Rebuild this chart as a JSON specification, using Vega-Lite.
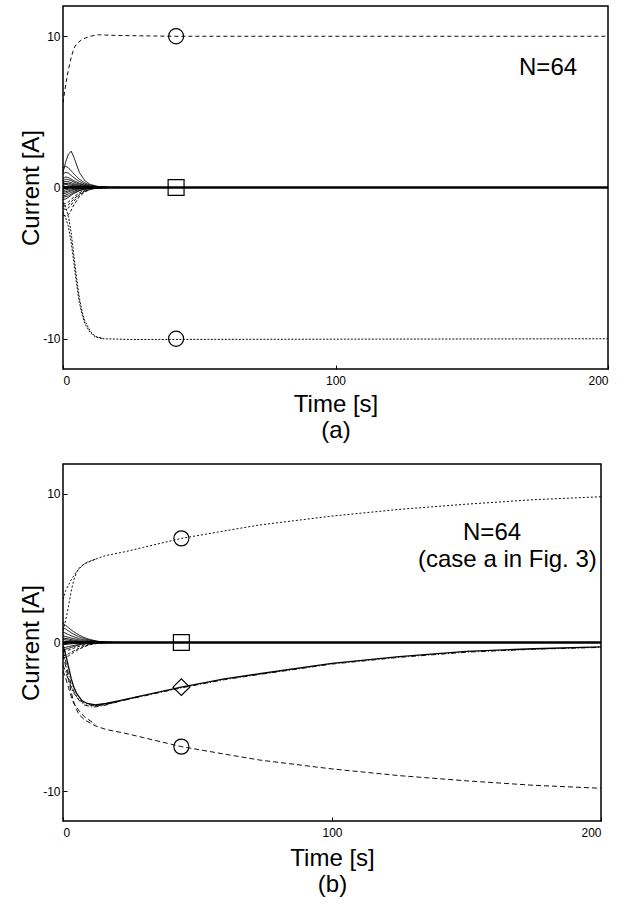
{
"$schema":"https://vega.github.io/schema/vega-lite/v6.json",
"background":"white",
"padding":{"left":18,"top":5,"right":0,"bottom":0},
"bounds":"flush",
"spacing":95,
"config":{
 "font":"Liberation Sans",
 "view":{"stroke":"black","strokeWidth":1.5},
 "axis":{"grid":false,"domain":false,"tickColor":"black","tickSize":-4,"tickWidth":1,"labelFont":"Liberation Sans","labelFontSize":12,"labelColor":"black","titleFont":"Liberation Sans","titleFontSize":24,"titleFontWeight":"normal","titleColor":"black"},
 "legend":{"disable":true}
},
"datasets":{
"curvesA":[
{"series":"a-rise","group":"rising","time":0,"current":5.6},{"series":"a-rise","group":"rising","time":1,"current":6.8},{"series":"a-rise","group":"rising","time":2,"current":7.8},{"series":"a-rise","group":"rising","time":3,"current":8.6},{"series":"a-rise","group":"rising","time":4,"current":9.2},{"series":"a-rise","group":"rising","time":5,"current":9.5},{"series":"a-rise","group":"rising","time":7,"current":9.8},{"series":"a-rise","group":"rising","time":10,"current":10.0},{"series":"a-rise","group":"rising","time":13,"current":10.1},{"series":"a-rise","group":"rising","time":20,"current":10.05},{"series":"a-rise","group":"rising","time":40,"current":10},{"series":"a-rise","group":"rising","time":200,"current":10},
{"series":"a-fall1","group":"falling","time":0,"current":-1.0},{"series":"a-fall1","group":"falling","time":1,"current":-1.3},{"series":"a-fall1","group":"falling","time":2,"current":-1.9},{"series":"a-fall1","group":"falling","time":3,"current":-3.0},{"series":"a-fall1","group":"falling","time":4,"current":-4.5},{"series":"a-fall1","group":"falling","time":5,"current":-6.0},{"series":"a-fall1","group":"falling","time":6,"current":-7.3},{"series":"a-fall1","group":"falling","time":7,"current":-8.2},{"series":"a-fall1","group":"falling","time":8,"current":-8.8},{"series":"a-fall1","group":"falling","time":10,"current":-9.5},{"series":"a-fall1","group":"falling","time":12,"current":-9.85},{"series":"a-fall1","group":"falling","time":15,"current":-10},{"series":"a-fall1","group":"falling","time":25,"current":-10.05},{"series":"a-fall1","group":"falling","time":200,"current":-10},
{"series":"a-fall2","group":"falling","time":0,"current":-1.6},{"series":"a-fall2","group":"falling","time":1,"current":-2.0},{"series":"a-fall2","group":"falling","time":2,"current":-2.6},{"series":"a-fall2","group":"falling","time":3,"current":-3.6},{"series":"a-fall2","group":"falling","time":4,"current":-5.0},{"series":"a-fall2","group":"falling","time":5,"current":-6.4},{"series":"a-fall2","group":"falling","time":6,"current":-7.6},{"series":"a-fall2","group":"falling","time":7,"current":-8.4},{"series":"a-fall2","group":"falling","time":8,"current":-9.0},{"series":"a-fall2","group":"falling","time":10,"current":-9.6},{"series":"a-fall2","group":"falling","time":12,"current":-9.9},{"series":"a-fall2","group":"falling","time":15,"current":-10},
{"series":"a-bump","group":"transient","time":0,"current":1.0},{"series":"a-bump","group":"transient","time":1,"current":1.7},{"series":"a-bump","group":"transient","time":2,"current":2.2},{"series":"a-bump","group":"transient","time":3,"current":2.4},{"series":"a-bump","group":"transient","time":4,"current":2.0},{"series":"a-bump","group":"transient","time":6,"current":1.0},{"series":"a-bump","group":"transient","time":8,"current":0.45},{"series":"a-bump","group":"transient","time":10,"current":0.2},{"series":"a-bump","group":"transient","time":13,"current":0.06},{"series":"a-bump","group":"transient","time":17,"current":0.01},{"series":"a-bump","group":"transient","time":22,"current":0},
{"series":"a-t1","group":"transient","time":0,"current":1.3},{"series":"a-t1","group":"transient","time":1,"current":1.4},{"series":"a-t1","group":"transient","time":2,"current":1.3},{"series":"a-t1","group":"transient","time":3,"current":1.1},{"series":"a-t1","group":"transient","time":4,"current":0.9},{"series":"a-t1","group":"transient","time":6,"current":0.55},{"series":"a-t1","group":"transient","time":8,"current":0.3},{"series":"a-t1","group":"transient","time":10,"current":0.15},{"series":"a-t1","group":"transient","time":13,"current":0.05},{"series":"a-t1","group":"transient","time":17,"current":0.01},{"series":"a-t1","group":"transient","time":22,"current":0},
{"series":"a-t2","group":"transient","time":0,"current":0.9},{"series":"a-t2","group":"transient","time":1,"current":1.0},{"series":"a-t2","group":"transient","time":2,"current":0.95},{"series":"a-t2","group":"transient","time":3,"current":0.8},{"series":"a-t2","group":"transient","time":4,"current":0.65},{"series":"a-t2","group":"transient","time":6,"current":0.4},{"series":"a-t2","group":"transient","time":8,"current":0.22},{"series":"a-t2","group":"transient","time":10,"current":0.1},{"series":"a-t2","group":"transient","time":13,"current":0.03},{"series":"a-t2","group":"transient","time":17,"current":0},
{"series":"a-t3","group":"transient","time":0,"current":0.6},{"series":"a-t3","group":"transient","time":1,"current":0.7},{"series":"a-t3","group":"transient","time":2,"current":0.65},{"series":"a-t3","group":"transient","time":3,"current":0.55},{"series":"a-t3","group":"transient","time":4,"current":0.45},{"series":"a-t3","group":"transient","time":6,"current":0.28},{"series":"a-t3","group":"transient","time":8,"current":0.15},{"series":"a-t3","group":"transient","time":10,"current":0.07},{"series":"a-t3","group":"transient","time":13,"current":0.02},{"series":"a-t3","group":"transient","time":17,"current":0},
{"series":"a-t4","group":"transient","time":0,"current":0.35},{"series":"a-t4","group":"transient","time":1,"current":0.4},{"series":"a-t4","group":"transient","time":2,"current":0.38},{"series":"a-t4","group":"transient","time":3,"current":0.32},{"series":"a-t4","group":"transient","time":4,"current":0.25},{"series":"a-t4","group":"transient","time":6,"current":0.15},{"series":"a-t4","group":"transient","time":8,"current":0.08},{"series":"a-t4","group":"transient","time":10,"current":0.04},{"series":"a-t4","group":"transient","time":13,"current":0.01},{"series":"a-t4","group":"transient","time":17,"current":0},
{"series":"a-t5","group":"transient","time":0,"current":0.15},{"series":"a-t5","group":"transient","time":1,"current":0.2},{"series":"a-t5","group":"transient","time":2,"current":0.18},{"series":"a-t5","group":"transient","time":3,"current":0.15},{"series":"a-t5","group":"transient","time":4,"current":0.12},{"series":"a-t5","group":"transient","time":6,"current":0.07},{"series":"a-t5","group":"transient","time":8,"current":0.04},{"series":"a-t5","group":"transient","time":10,"current":0.02},{"series":"a-t5","group":"transient","time":13,"current":0},
{"series":"a-t6","group":"transient","time":0,"current":-0.1},{"series":"a-t6","group":"transient","time":1,"current":-0.05},{"series":"a-t6","group":"transient","time":2,"current":-0.02},{"series":"a-t6","group":"transient","time":4,"current":0.02},{"series":"a-t6","group":"transient","time":6,"current":0.02},{"series":"a-t6","group":"transient","time":10,"current":0},
{"series":"a-t7","group":"transient","time":0,"current":-0.3},{"series":"a-t7","group":"transient","time":1,"current":-0.28},{"series":"a-t7","group":"transient","time":2,"current":-0.22},{"series":"a-t7","group":"transient","time":3,"current":-0.16},{"series":"a-t7","group":"transient","time":4,"current":-0.12},{"series":"a-t7","group":"transient","time":6,"current":-0.06},{"series":"a-t7","group":"transient","time":8,"current":-0.03},{"series":"a-t7","group":"transient","time":10,"current":-0.01},{"series":"a-t7","group":"transient","time":13,"current":0},
{"series":"a-t8","group":"transient","time":0,"current":-0.55},{"series":"a-t8","group":"transient","time":1,"current":-0.5},{"series":"a-t8","group":"transient","time":2,"current":-0.42},{"series":"a-t8","group":"transient","time":3,"current":-0.33},{"series":"a-t8","group":"transient","time":4,"current":-0.25},{"series":"a-t8","group":"transient","time":6,"current":-0.13},{"series":"a-t8","group":"transient","time":8,"current":-0.06},{"series":"a-t8","group":"transient","time":10,"current":-0.03},{"series":"a-t8","group":"transient","time":13,"current":-0.01},{"series":"a-t8","group":"transient","time":17,"current":0},
{"series":"a-t9","group":"transient","time":0,"current":-0.8},{"series":"a-t9","group":"transient","time":1,"current":-0.75},{"series":"a-t9","group":"transient","time":2,"current":-0.65},{"series":"a-t9","group":"transient","time":3,"current":-0.52},{"series":"a-t9","group":"transient","time":4,"current":-0.4},{"series":"a-t9","group":"transient","time":6,"current":-0.22},{"series":"a-t9","group":"transient","time":8,"current":-0.11},{"series":"a-t9","group":"transient","time":10,"current":-0.05},{"series":"a-t9","group":"transient","time":13,"current":-0.01},{"series":"a-t9","group":"transient","time":17,"current":0},
{"series":"a-t10","group":"transientDashed","time":0,"current":-1.1},{"series":"a-t10","group":"transientDashed","time":1,"current":-1.05},{"series":"a-t10","group":"transientDashed","time":2,"current":-0.95},{"series":"a-t10","group":"transientDashed","time":3,"current":-0.8},{"series":"a-t10","group":"transientDashed","time":4,"current":-0.62},{"series":"a-t10","group":"transientDashed","time":6,"current":-0.35},{"series":"a-t10","group":"transientDashed","time":8,"current":-0.18},{"series":"a-t10","group":"transientDashed","time":10,"current":-0.08},{"series":"a-t10","group":"transientDashed","time":13,"current":-0.02},{"series":"a-t10","group":"transientDashed","time":17,"current":0},
{"series":"a-t11","group":"transientDashed","time":0,"current":-1.4},{"series":"a-t11","group":"transientDashed","time":1,"current":-1.45},{"series":"a-t11","group":"transientDashed","time":2,"current":-1.35},{"series":"a-t11","group":"transientDashed","time":3,"current":-1.15},{"series":"a-t11","group":"transientDashed","time":4,"current":-0.9},{"series":"a-t11","group":"transientDashed","time":6,"current":-0.5},{"series":"a-t11","group":"transientDashed","time":8,"current":-0.25},{"series":"a-t11","group":"transientDashed","time":10,"current":-0.1},{"series":"a-t11","group":"transientDashed","time":13,"current":-0.03},{"series":"a-t11","group":"transientDashed","time":17,"current":0},
{"series":"a-t12","group":"transientDashed","time":0,"current":-1.8},{"series":"a-t12","group":"transientDashed","time":1,"current":-1.9},{"series":"a-t12","group":"transientDashed","time":2,"current":-1.8},{"series":"a-t12","group":"transientDashed","time":3,"current":-1.5},{"series":"a-t12","group":"transientDashed","time":4,"current":-1.15},{"series":"a-t12","group":"transientDashed","time":6,"current":-0.6},{"series":"a-t12","group":"transientDashed","time":8,"current":-0.3},{"series":"a-t12","group":"transientDashed","time":10,"current":-0.12},{"series":"a-t12","group":"transientDashed","time":13,"current":-0.03},{"series":"a-t12","group":"transientDashed","time":17,"current":0},
{"series":"a-t13","group":"transient","time":0,"current":0.0},{"series":"a-t13","group":"transient","time":2,"current":0.1},{"series":"a-t13","group":"transient","time":4,"current":0.07},{"series":"a-t13","group":"transient","time":8,"current":0.02},{"series":"a-t13","group":"transient","time":12,"current":0},
{"series":"a-t14","group":"transient","time":0,"current":0.45},{"series":"a-t14","group":"transient","time":1,"current":0.55},{"series":"a-t14","group":"transient","time":2,"current":0.52},{"series":"a-t14","group":"transient","time":3,"current":0.45},{"series":"a-t14","group":"transient","time":4,"current":0.36},{"series":"a-t14","group":"transient","time":6,"current":0.22},{"series":"a-t14","group":"transient","time":8,"current":0.12},{"series":"a-t14","group":"transient","time":10,"current":0.05},{"series":"a-t14","group":"transient","time":13,"current":0.01},{"series":"a-t14","group":"transient","time":17,"current":0},
{"series":"a-t15","group":"transient","time":0,"current":-0.2},{"series":"a-t15","group":"transient","time":2,"current":-0.12},{"series":"a-t15","group":"transient","time":4,"current":-0.05},{"series":"a-t15","group":"transient","time":8,"current":-0.01},{"series":"a-t15","group":"transient","time":12,"current":0},
{"series":"a-t16","group":"transient","time":0,"current":-0.4},{"series":"a-t16","group":"transient","time":1,"current":-0.38},{"series":"a-t16","group":"transient","time":2,"current":-0.3},{"series":"a-t16","group":"transient","time":4,"current":-0.16},{"series":"a-t16","group":"transient","time":6,"current":-0.08},{"series":"a-t16","group":"transient","time":8,"current":-0.04},{"series":"a-t16","group":"transient","time":10,"current":-0.02},{"series":"a-t16","group":"transient","time":14,"current":0},
{"series":"a-t17","group":"transient","time":0,"current":0.25},{"series":"a-t17","group":"transient","time":2,"current":0.28},{"series":"a-t17","group":"transient","time":4,"current":0.18},{"series":"a-t17","group":"transient","time":7,"current":0.08},{"series":"a-t17","group":"transient","time":11,"current":0.02},{"series":"a-t17","group":"transient","time":15,"current":0},
{"series":"a-t18","group":"transient","time":0,"current":0.08},{"series":"a-t18","group":"transient","time":2,"current":0.05},{"series":"a-t18","group":"transient","time":5,"current":0.02},{"series":"a-t18","group":"transient","time":9,"current":0},
{"series":"a-t19","group":"transient","time":0,"current":-0.65},{"series":"a-t19","group":"transient","time":2,"current":-0.55},{"series":"a-t19","group":"transient","time":4,"current":-0.33},{"series":"a-t19","group":"transient","time":7,"current":-0.14},{"series":"a-t19","group":"transient","time":11,"current":-0.04},{"series":"a-t19","group":"transient","time":15,"current":0},
{"series":"a-t20","group":"transientDashed","time":0,"current":-1.25},{"series":"a-t20","group":"transientDashed","time":2,"current":-1.15},{"series":"a-t20","group":"transientDashed","time":4,"current":-0.75},{"series":"a-t20","group":"transientDashed","time":7,"current":-0.3},{"series":"a-t20","group":"transientDashed","time":11,"current":-0.08},{"series":"a-t20","group":"transientDashed","time":16,"current":0},
{"series":"a-zero","group":"converged","time":0,"current":0},{"series":"a-zero","group":"converged","time":200,"current":0}
],
"curvesB":[
{"series":"b-rise1","group":"slowRise","time":0,"current":0.8},{"series":"b-rise1","group":"slowRise","time":1,"current":1.5},{"series":"b-rise1","group":"slowRise","time":2,"current":2.4},{"series":"b-rise1","group":"slowRise","time":3,"current":3.4},{"series":"b-rise1","group":"slowRise","time":4,"current":4.2},{"series":"b-rise1","group":"slowRise","time":5,"current":4.7},{"series":"b-rise1","group":"slowRise","time":6,"current":5.0},{"series":"b-rise1","group":"slowRise","time":8,"current":5.3},{"series":"b-rise1","group":"slowRise","time":12,"current":5.6},{"series":"b-rise1","group":"slowRise","time":16,"current":5.85},{"series":"b-rise1","group":"slowRise","time":23,"current":6.1},{"series":"b-rise1","group":"slowRise","time":30,"current":6.4},{"series":"b-rise1","group":"slowRise","time":44,"current":7.0},{"series":"b-rise1","group":"slowRise","time":60,"current":7.5},{"series":"b-rise1","group":"slowRise","time":73,"current":7.9},{"series":"b-rise1","group":"slowRise","time":100,"current":8.5},{"series":"b-rise1","group":"slowRise","time":125,"current":8.95},{"series":"b-rise1","group":"slowRise","time":150,"current":9.3},{"series":"b-rise1","group":"slowRise","time":175,"current":9.6},{"series":"b-rise1","group":"slowRise","time":200,"current":9.8},
{"series":"b-rise2","group":"slowRise","time":0,"current":2.9},{"series":"b-rise2","group":"slowRise","time":1,"current":3.5},{"series":"b-rise2","group":"slowRise","time":3,"current":4.2},{"series":"b-rise2","group":"slowRise","time":4.8,"current":4.7},{"series":"b-rise2","group":"slowRise","time":7,"current":5.15},{"series":"b-rise2","group":"slowRise","time":9,"current":5.4},{"series":"b-rise2","group":"slowRise","time":12,"current":5.6},
{"series":"b-fall1","group":"slowFall","time":0,"current":-0.8},{"series":"b-fall1","group":"slowFall","time":1,"current":-1.6},{"series":"b-fall1","group":"slowFall","time":2,"current":-2.4},{"series":"b-fall1","group":"slowFall","time":3,"current":-3.3},{"series":"b-fall1","group":"slowFall","time":4,"current":-4.0},{"series":"b-fall1","group":"slowFall","time":5,"current":-4.5},{"series":"b-fall1","group":"slowFall","time":6,"current":-4.85},{"series":"b-fall1","group":"slowFall","time":8,"current":-5.2},{"series":"b-fall1","group":"slowFall","time":12,"current":-5.6},{"series":"b-fall1","group":"slowFall","time":16,"current":-5.85},{"series":"b-fall1","group":"slowFall","time":23,"current":-6.1},{"series":"b-fall1","group":"slowFall","time":30,"current":-6.4},{"series":"b-fall1","group":"slowFall","time":44,"current":-7.0},{"series":"b-fall1","group":"slowFall","time":60,"current":-7.5},{"series":"b-fall1","group":"slowFall","time":73,"current":-7.9},{"series":"b-fall1","group":"slowFall","time":100,"current":-8.5},{"series":"b-fall1","group":"slowFall","time":125,"current":-8.95},{"series":"b-fall1","group":"slowFall","time":150,"current":-9.3},{"series":"b-fall1","group":"slowFall","time":175,"current":-9.6},{"series":"b-fall1","group":"slowFall","time":200,"current":-9.8},
{"series":"b-mid1","group":"middle","time":0,"current":-0.2},{"series":"b-mid1","group":"middle","time":1,"current":-0.8},{"series":"b-mid1","group":"middle","time":2,"current":-1.6},{"series":"b-mid1","group":"middle","time":3,"current":-2.4},{"series":"b-mid1","group":"middle","time":4,"current":-3.0},{"series":"b-mid1","group":"middle","time":5,"current":-3.4},{"series":"b-mid1","group":"middle","time":7,"current":-3.9},{"series":"b-mid1","group":"middle","time":9,"current":-4.1},{"series":"b-mid1","group":"middle","time":12,"current":-4.2},{"series":"b-mid1","group":"middle","time":16,"current":-4.1},{"series":"b-mid1","group":"middle","time":21,"current":-3.9},{"series":"b-mid1","group":"middle","time":30,"current":-3.55},{"series":"b-mid1","group":"middle","time":44,"current":-3.0},{"series":"b-mid1","group":"middle","time":60,"current":-2.45},{"series":"b-mid1","group":"middle","time":73,"current":-2.1},{"series":"b-mid1","group":"middle","time":100,"current":-1.4},{"series":"b-mid1","group":"middle","time":125,"current":-0.95},{"series":"b-mid1","group":"middle","time":150,"current":-0.6},{"series":"b-mid1","group":"middle","time":175,"current":-0.42},{"series":"b-mid1","group":"middle","time":200,"current":-0.3},
{"series":"b-mid1b","group":"middleDashed","time":12,"current":-4.25},{"series":"b-mid1b","group":"middleDashed","time":21,"current":-3.95},{"series":"b-mid1b","group":"middleDashed","time":30,"current":-3.6},{"series":"b-mid1b","group":"middleDashed","time":44,"current":-3.05},{"series":"b-mid1b","group":"middleDashed","time":60,"current":-2.5},{"series":"b-mid1b","group":"middleDashed","time":73,"current":-2.15},{"series":"b-mid1b","group":"middleDashed","time":100,"current":-1.45},{"series":"b-mid1b","group":"middleDashed","time":125,"current":-1.0},{"series":"b-mid1b","group":"middleDashed","time":150,"current":-0.65},{"series":"b-mid1b","group":"middleDashed","time":175,"current":-0.45},{"series":"b-mid1b","group":"middleDashed","time":200,"current":-0.33},
{"series":"b-mid2","group":"middleDashed","time":0,"current":-0.5},{"series":"b-mid2","group":"middleDashed","time":1,"current":-1.3},{"series":"b-mid2","group":"middleDashed","time":2,"current":-2.1},{"series":"b-mid2","group":"middleDashed","time":3,"current":-2.8},{"series":"b-mid2","group":"middleDashed","time":4,"current":-3.3},{"series":"b-mid2","group":"middleDashed","time":6,"current":-3.9},{"series":"b-mid2","group":"middleDashed","time":8,"current":-4.2},{"series":"b-mid2","group":"middleDashed","time":11,"current":-4.35},{"series":"b-mid2","group":"middleDashed","time":15,"current":-4.25},{"series":"b-mid2","group":"middleDashed","time":21,"current":-3.95},{"series":"b-mid2","group":"middleDashed","time":30,"current":-3.55},
{"series":"b-mid3","group":"middleDashed","time":0,"current":-1.5},{"series":"b-mid3","group":"middleDashed","time":1,"current":-2.0},{"series":"b-mid3","group":"middleDashed","time":2,"current":-2.5},{"series":"b-mid3","group":"middleDashed","time":3,"current":-3.0},{"series":"b-mid3","group":"middleDashed","time":4,"current":-3.4},{"series":"b-mid3","group":"middleDashed","time":6,"current":-3.85},{"series":"b-mid3","group":"middleDashed","time":8,"current":-4.1},{"series":"b-mid3","group":"middleDashed","time":11,"current":-4.25},{"series":"b-mid3","group":"middleDashed","time":15,"current":-4.2},{"series":"b-mid3","group":"middleDashed","time":21,"current":-3.95},
{"series":"b-mid4","group":"slowFall","time":0,"current":-1.9},{"series":"b-mid4","group":"slowFall","time":1,"current":-2.4},{"series":"b-mid4","group":"slowFall","time":2,"current":-3.0},{"series":"b-mid4","group":"slowFall","time":3,"current":-3.6},{"series":"b-mid4","group":"slowFall","time":4,"current":-4.1},{"series":"b-mid4","group":"slowFall","time":6,"current":-4.6},{"series":"b-mid4","group":"slowFall","time":8,"current":-5.0},{"series":"b-mid4","group":"slowFall","time":12,"current":-5.5},
{"series":"b-t1","group":"transient","time":0,"current":1.3},{"series":"b-t1","group":"transient","time":1,"current":1.15},{"series":"b-t1","group":"transient","time":2,"current":1.0},{"series":"b-t1","group":"transient","time":3,"current":0.85},{"series":"b-t1","group":"transient","time":4,"current":0.72},{"series":"b-t1","group":"transient","time":6,"current":0.5},{"series":"b-t1","group":"transient","time":8,"current":0.33},{"series":"b-t1","group":"transient","time":10,"current":0.2},{"series":"b-t1","group":"transient","time":13,"current":0.08},{"series":"b-t1","group":"transient","time":17,"current":0.02},{"series":"b-t1","group":"transient","time":22,"current":0},
{"series":"b-t2","group":"transient","time":0,"current":1.0},{"series":"b-t2","group":"transient","time":1,"current":0.9},{"series":"b-t2","group":"transient","time":2,"current":0.78},{"series":"b-t2","group":"transient","time":3,"current":0.66},{"series":"b-t2","group":"transient","time":4,"current":0.55},{"series":"b-t2","group":"transient","time":6,"current":0.38},{"series":"b-t2","group":"transient","time":8,"current":0.25},{"series":"b-t2","group":"transient","time":10,"current":0.15},{"series":"b-t2","group":"transient","time":13,"current":0.06},{"series":"b-t2","group":"transient","time":17,"current":0.01},{"series":"b-t2","group":"transient","time":22,"current":0},
{"series":"b-t3","group":"transient","time":0,"current":0.7},{"series":"b-t3","group":"transient","time":1,"current":0.62},{"series":"b-t3","group":"transient","time":2,"current":0.54},{"series":"b-t3","group":"transient","time":3,"current":0.46},{"series":"b-t3","group":"transient","time":4,"current":0.38},{"series":"b-t3","group":"transient","time":6,"current":0.26},{"series":"b-t3","group":"transient","time":8,"current":0.17},{"series":"b-t3","group":"transient","time":10,"current":0.1},{"series":"b-t3","group":"transient","time":13,"current":0.04},{"series":"b-t3","group":"transient","time":17,"current":0.01},{"series":"b-t3","group":"transient","time":22,"current":0},
{"series":"b-t4","group":"transient","time":0,"current":0.45},{"series":"b-t4","group":"transient","time":1,"current":0.4},{"series":"b-t4","group":"transient","time":2,"current":0.35},{"series":"b-t4","group":"transient","time":3,"current":0.3},{"series":"b-t4","group":"transient","time":4,"current":0.25},{"series":"b-t4","group":"transient","time":6,"current":0.17},{"series":"b-t4","group":"transient","time":8,"current":0.11},{"series":"b-t4","group":"transient","time":10,"current":0.06},{"series":"b-t4","group":"transient","time":13,"current":0.02},{"series":"b-t4","group":"transient","time":17,"current":0},
{"series":"b-t5","group":"transient","time":0,"current":0.2},{"series":"b-t5","group":"transient","time":2,"current":0.15},{"series":"b-t5","group":"transient","time":4,"current":0.1},{"series":"b-t5","group":"transient","time":8,"current":0.04},{"series":"b-t5","group":"transient","time":13,"current":0.01},{"series":"b-t5","group":"transient","time":17,"current":0},
{"series":"b-t6","group":"transient","time":0,"current":-0.15},{"series":"b-t6","group":"transient","time":2,"current":-0.11},{"series":"b-t6","group":"transient","time":4,"current":-0.07},{"series":"b-t6","group":"transient","time":8,"current":-0.03},{"series":"b-t6","group":"transient","time":13,"current":0},
{"series":"b-t7","group":"transient","time":0,"current":-0.35},{"series":"b-t7","group":"transient","time":1,"current":-0.32},{"series":"b-t7","group":"transient","time":2,"current":-0.28},{"series":"b-t7","group":"transient","time":3,"current":-0.24},{"series":"b-t7","group":"transient","time":4,"current":-0.2},{"series":"b-t7","group":"transient","time":6,"current":-0.13},{"series":"b-t7","group":"transient","time":8,"current":-0.08},{"series":"b-t7","group":"transient","time":10,"current":-0.04},{"series":"b-t7","group":"transient","time":13,"current":-0.01},{"series":"b-t7","group":"transient","time":17,"current":0},
{"series":"b-t8","group":"transientDashed","time":0,"current":-0.6},{"series":"b-t8","group":"transientDashed","time":1,"current":-0.58},{"series":"b-t8","group":"transientDashed","time":2,"current":-0.52},{"series":"b-t8","group":"transientDashed","time":3,"current":-0.45},{"series":"b-t8","group":"transientDashed","time":4,"current":-0.38},{"series":"b-t8","group":"transientDashed","time":6,"current":-0.26},{"series":"b-t8","group":"transientDashed","time":8,"current":-0.16},{"series":"b-t8","group":"transientDashed","time":10,"current":-0.09},{"series":"b-t8","group":"transientDashed","time":13,"current":-0.03},{"series":"b-t8","group":"transientDashed","time":17,"current":0},
{"series":"b-t9","group":"transientDashed","time":0,"current":-0.9},{"series":"b-t9","group":"transientDashed","time":1,"current":-0.85},{"series":"b-t9","group":"transientDashed","time":2,"current":-0.76},{"series":"b-t9","group":"transientDashed","time":3,"current":-0.66},{"series":"b-t9","group":"transientDashed","time":4,"current":-0.56},{"series":"b-t9","group":"transientDashed","time":6,"current":-0.38},{"series":"b-t9","group":"transientDashed","time":8,"current":-0.24},{"series":"b-t9","group":"transientDashed","time":10,"current":-0.13},{"series":"b-t9","group":"transientDashed","time":13,"current":-0.04},{"series":"b-t9","group":"transientDashed","time":17,"current":-0.01},{"series":"b-t9","group":"transientDashed","time":22,"current":0},
{"series":"b-t10","group":"transientDashed","time":0,"current":-1.1},{"series":"b-t10","group":"transientDashed","time":1,"current":-1.0},{"series":"b-t10","group":"transientDashed","time":2,"current":-0.9},{"series":"b-t10","group":"transientDashed","time":3,"current":-0.78},{"series":"b-t10","group":"transientDashed","time":4,"current":-0.66},{"series":"b-t10","group":"transientDashed","time":6,"current":-0.45},{"series":"b-t10","group":"transientDashed","time":8,"current":-0.28},{"series":"b-t10","group":"transientDashed","time":10,"current":-0.15},{"series":"b-t10","group":"transientDashed","time":13,"current":-0.05},{"series":"b-t10","group":"transientDashed","time":17,"current":-0.01},{"series":"b-t10","group":"transientDashed","time":22,"current":0},
{"series":"b-t11","group":"transient","time":0,"current":0.05},{"series":"b-t11","group":"transient","time":3,"current":0.04},{"series":"b-t11","group":"transient","time":7,"current":0.01},{"series":"b-t11","group":"transient","time":11,"current":0},
{"series":"b-t12","group":"transient","time":0,"current":0.3},{"series":"b-t12","group":"transient","time":2,"current":0.24},{"series":"b-t12","group":"transient","time":4,"current":0.16},{"series":"b-t12","group":"transient","time":7,"current":0.07},{"series":"b-t12","group":"transient","time":11,"current":0.02},{"series":"b-t12","group":"transient","time":15,"current":0},
{"series":"b-t13","group":"transient","time":0,"current":-0.5},{"series":"b-t13","group":"transient","time":2,"current":-0.4},{"series":"b-t13","group":"transient","time":4,"current":-0.27},{"series":"b-t13","group":"transient","time":7,"current":-0.12},{"series":"b-t13","group":"transient","time":11,"current":-0.03},{"series":"b-t13","group":"transient","time":15,"current":0},
{"series":"b-zero","group":"converged","time":0,"current":0},{"series":"b-zero","group":"converged","time":200,"current":0}
],
"marksA":[{"marker":"circle","time":41.5,"current":10},{"marker":"square","time":41.5,"current":0},{"marker":"circle","time":41.5,"current":-10}],
"marksB":[{"marker":"circle","time":44,"current":7},{"marker":"square","time":44,"current":0},{"marker":"diamond","time":44,"current":-3},{"marker":"circle","time":44,"current":-7}],
"notesA":[{"label":"N=64","time":178,"current":7.9}],
"notesB":[{"label":"N=64","time":159.5,"current":7.33},{"label":"(case a in Fig. 3)","time":165.2,"current":5.53}]
},
"vconcat":[
{
 "width":545,"height":363,
 "layer":[
  {"data":{"name":"curvesA"},"transform":[{"filter":"datum.group != 'converged' && datum.group != 'middle'"}],
   "mark":{"type":"line","color":"black","clip":true,"strokeWidth":0.95},
   "encoding":{
    "x":{"field":"time","type":"quantitative","scale":{"domain":[0,200],"nice":false},"axis":{"values":[0,100,200],"title":["Time [s]","(a)"],"titlePadding":6,"titleLineHeight":26,"labelPadding":10}},
    "y":{"field":"current","type":"quantitative","scale":{"domain":[-12,12],"nice":false},"axis":{"values":[-10,0,10],"title":"Current [A]","labelPadding":7,"titlePadding":-1,"labelExpr":"datum.value < 0 ? '-' + abs(datum.value) : '' + datum.value"}},
    "detail":{"field":"series"},
    "strokeDash":{"field":"group","type":"nominal","scale":{"domain":["rising","falling","slowRise","slowFall","middleDashed","transient","transientDashed"],"range":[[4,3],[2,1.5],[2,2],[5,3],[5,2,1,2],[1,0],[3,2]]}}
   }},
  {"data":{"name":"curvesA"},"transform":[{"filter":"datum.group == 'converged'"}],
   "mark":{"type":"line","color":"black","clip":true,"strokeWidth":2.6},
   "encoding":{"x":{"field":"time","type":"quantitative"},"y":{"field":"current","type":"quantitative"},"detail":{"field":"series"}}},
  {"data":{"name":"marksA"},"mark":{"type":"point","filled":false,"color":"black","strokeWidth":1.2,"opacity":1},
   "encoding":{"x":{"field":"time","type":"quantitative"},"y":{"field":"current","type":"quantitative"},
    "shape":{"field":"marker","type":"nominal","scale":{"domain":["circle","square","diamond"],"range":["circle","square","diamond"]}},
    "size":{"field":"marker","type":"nominal","scale":{"domain":["circle","square","diamond"],"range":[227,280,430]}}}},
  {"data":{"name":"notesA"},"mark":{"type":"text","font":"Liberation Sans","fontSize":24,"color":"black","align":"center","baseline":"middle"},
   "encoding":{"x":{"field":"time","type":"quantitative"},"y":{"field":"current","type":"quantitative"},"text":{"field":"label"}}}
 ]
},
{
 "width":538,"height":357,
 "layer":[
  {"data":{"name":"curvesB"},"transform":[{"filter":"datum.group != 'converged' && datum.group != 'middle'"}],
   "mark":{"type":"line","color":"black","clip":true,"strokeWidth":0.95},
   "encoding":{
    "x":{"field":"time","type":"quantitative","scale":{"domain":[0,200],"nice":false},"axis":{"values":[0,100,200],"title":["Time [s]","(b)"],"titlePadding":8,"titleLineHeight":26,"labelPadding":10}},
    "y":{"field":"current","type":"quantitative","scale":{"domain":[-12,12],"nice":false},"axis":{"values":[-10,0,10],"title":"Current [A]","labelPadding":7,"titlePadding":-1,"labelExpr":"datum.value < 0 ? '-' + abs(datum.value) : '' + datum.value"}},
    "detail":{"field":"series"},
    "strokeDash":{"field":"group","type":"nominal","scale":{"domain":["rising","falling","slowRise","slowFall","middleDashed","transient","transientDashed"],"range":[[4,3],[2,1.5],[2,2],[5,3],[5,2,1,2],[1,0],[3,2]]}}
   }},
  {"data":{"name":"curvesB"},"transform":[{"filter":"datum.group == 'converged'"}],
   "mark":{"type":"line","color":"black","clip":true,"strokeWidth":2.6},
   "encoding":{"x":{"field":"time","type":"quantitative"},"y":{"field":"current","type":"quantitative"},"detail":{"field":"series"}}},
  {"data":{"name":"curvesB"},"transform":[{"filter":"datum.group == 'middle'"}],
   "mark":{"type":"line","color":"black","clip":true,"strokeWidth":1.3},
   "encoding":{"x":{"field":"time","type":"quantitative"},"y":{"field":"current","type":"quantitative"},"detail":{"field":"series"}}},
  {"data":{"name":"marksB"},"mark":{"type":"point","filled":false,"color":"black","strokeWidth":1.2,"opacity":1},
   "encoding":{"x":{"field":"time","type":"quantitative"},"y":{"field":"current","type":"quantitative"},
    "shape":{"field":"marker","type":"nominal","scale":{"domain":["circle","square","diamond"],"range":["circle","square","diamond"]}},
    "size":{"field":"marker","type":"nominal","scale":{"domain":["circle","square","diamond"],"range":[227,280,430]}}}},
  {"data":{"name":"notesB"},"mark":{"type":"text","font":"Liberation Sans","fontSize":24,"color":"black","align":"center","baseline":"middle"},
   "encoding":{"x":{"field":"time","type":"quantitative"},"y":{"field":"current","type":"quantitative"},"text":{"field":"label"}}}
 ]
}
]
}
